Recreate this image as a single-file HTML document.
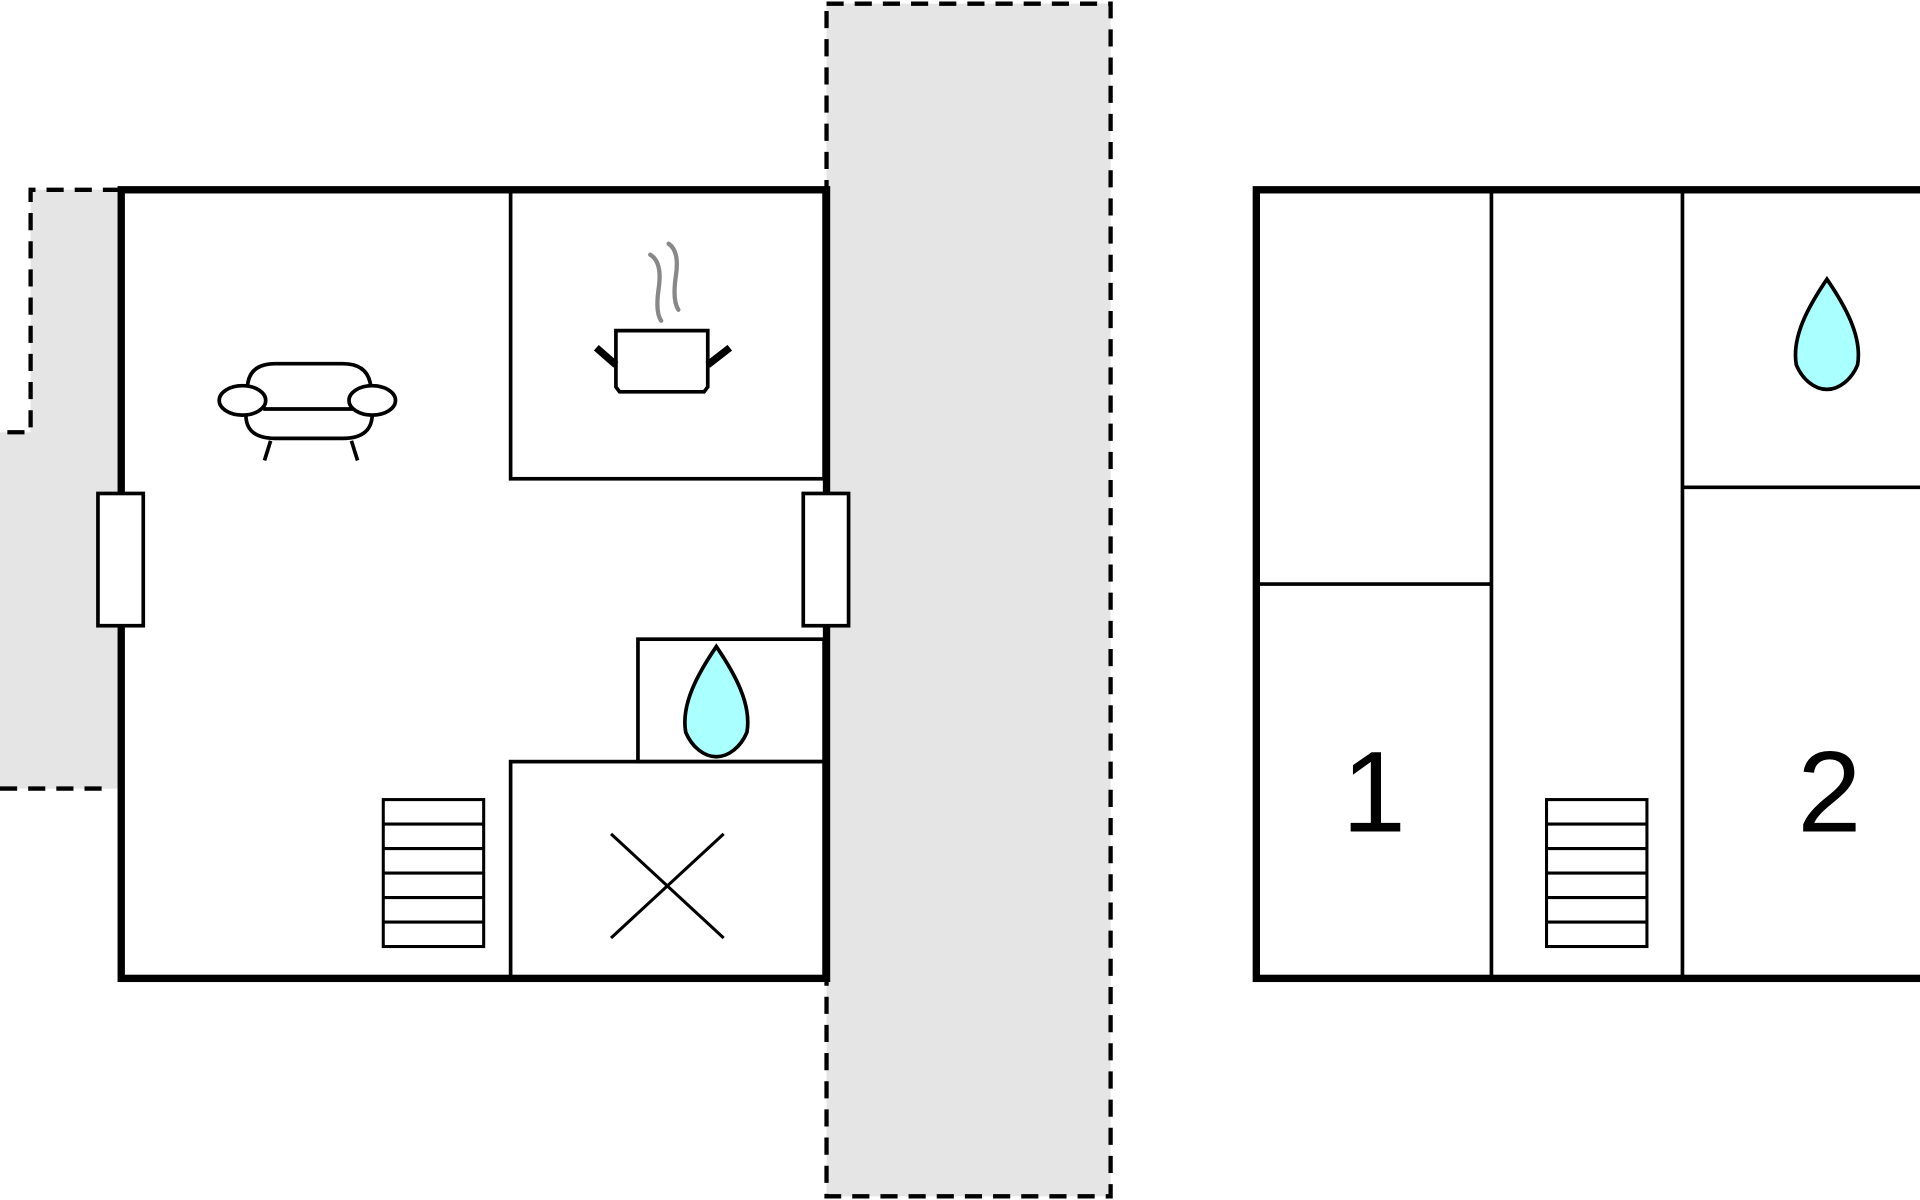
<!DOCTYPE html>
<html><head><style>html,body{margin:0;padding:0;background:#fff}svg{display:block}</style></head>
<body>
<svg width="1920" height="1200" viewBox="0 0 1568 980" xmlns="http://www.w3.org/2000/svg">
<rect width="1568" height="980" fill="#fff"/>
<path d="M25,155 H98 V644 H0 V353 H25 Z" fill="#e5e5e5"/>
<g stroke="#000" stroke-width="3.5" stroke-dasharray="14,9" fill="none">
<path d="M98,155 H25 V353 H0"/>
<path d="M0,644 H85"/>
</g>
<rect x="675" y="3" width="232" height="974" fill="#e5e5e5" stroke="#000" stroke-width="3.5" stroke-dasharray="14,9"/>
<rect x="99" y="155" width="576" height="644" fill="#fff" stroke="#000" stroke-width="6"/>
<g stroke="#000" stroke-width="3" fill="none">
<rect x="417" y="155" width="256" height="236"/>
<rect x="521" y="522" width="152" height="100"/>
<rect x="417" y="622" width="256" height="177"/>
<line x1="499" y1="681" x2="591" y2="766" stroke-width="2.5"/>
<line x1="591" y1="681" x2="499" y2="766" stroke-width="2.5"/>
</g>
<rect x="80" y="403" width="37" height="108" fill="#fff" stroke="#000" stroke-width="3"/>
<rect x="656" y="403" width="37" height="108" fill="#fff" stroke="#000" stroke-width="3"/>
<g stroke="#000" stroke-width="2.5" fill="#fff">
<rect x="313" y="653" width="82" height="120"/>
<line x1="313" y1="673" x2="395" y2="673"/><line x1="313" y1="693" x2="395" y2="693"/>
<line x1="313" y1="713" x2="395" y2="713"/><line x1="313" y1="733" x2="395" y2="733"/>
<line x1="313" y1="753" x2="395" y2="753"/>
</g>
<g stroke="#000" stroke-width="3" fill="#fff">
<path d="M202,318 Q202,297 225,297 H280 Q302,297 303,318"/>
<path d="M201,336 Q199,358 225,358 H280 Q305,358 304,336"/>
<line x1="215" y1="334" x2="290" y2="334"/>
<ellipse cx="198" cy="327" rx="19" ry="12"/>
<ellipse cx="304" cy="327" rx="19" ry="12"/>
<line x1="221" y1="360" x2="216" y2="376"/>
<line x1="287" y1="360" x2="292" y2="376"/>
</g>
<g>
<path d="M531,208 Q541,214 538,235 Q535,255 540,262" stroke="#888" stroke-width="3.5" fill="none" stroke-linecap="round"/>
<path d="M546,199 Q555,205 552,225 Q549,245 554,253" stroke="#888" stroke-width="3.5" fill="none" stroke-linecap="round"/>
<path d="M503,270 H578 V316 L575,320 H506 L503,316 Z" fill="#fff" stroke="#000" stroke-width="3"/>
<path d="M503,298 L487,284" stroke="#000" stroke-width="6"/>
<path d="M578,298 L596,284" stroke="#000" stroke-width="6"/>
</g>
<path d="M585,528 C570,550 556,575 560,598 C565,610 575,618 585,618 C595,618 605,610 610,598 C614,575 600,550 585,528Z" fill="#aaffff" stroke="#000" stroke-width="3"/>
<rect x="1026" y="155" width="560" height="644" fill="#fff" stroke="#000" stroke-width="6"/>
<g stroke="#000" stroke-width="3">
<line x1="1218" y1="155" x2="1218" y2="799"/>
<line x1="1374" y1="155" x2="1374" y2="799"/>
<line x1="1026" y1="477" x2="1218" y2="477"/>
<line x1="1374" y1="398" x2="1568" y2="398"/>
</g>
<g stroke="#000" stroke-width="2.5" fill="#fff">
<rect x="1263" y="653" width="82" height="120"/>
<line x1="1263" y1="673" x2="1345" y2="673"/><line x1="1263" y1="693" x2="1345" y2="693"/>
<line x1="1263" y1="713" x2="1345" y2="713"/><line x1="1263" y1="733" x2="1345" y2="733"/>
<line x1="1263" y1="753" x2="1345" y2="753"/>
</g>
<path d="M1492,228 C1477,250 1463,275 1467,298 C1472,310 1482,318 1492,318 C1502,318 1512,310 1517,298 C1521,275 1507,250 1492,228Z" fill="#aaffff" stroke="#000" stroke-width="3"/>
<text x="1122" y="679" font-family="Liberation Sans, sans-serif" font-size="94" text-anchor="middle">1</text>
<text x="1494" y="679" font-family="Liberation Sans, sans-serif" font-size="94" text-anchor="middle">2</text>
</svg>
</body></html>
